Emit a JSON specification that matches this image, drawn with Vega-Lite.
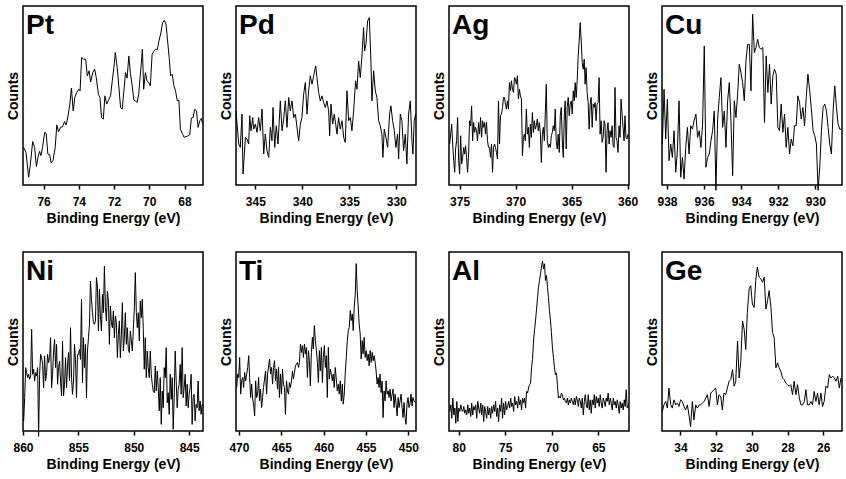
{
"$schema": "https://vega.github.io/schema/vega-lite/v6.json",
"background": "white",
"padding": {"left": 5, "top": 5, "right": 0, "bottom": 0},
"columns": 4,
"spacing": {"row": 67, "column": 33},
"bounds": "flush",
"config": {
  "font": "Liberation Sans",
  "view": {"stroke": "#000", "strokeWidth": 1.5},
  "axis": {"grid": false, "domain": false, "labelFont": "Liberation Sans", "labelFontWeight": "bold", "labelFontSize": 12, "labelColor": "#000", "titleFont": "Liberation Sans", "titleFontWeight": "bold", "titleFontSize": 14, "titleColor": "#000", "tickColor": "#000", "tickWidth": 1.5, "tickSize": 4, "labelPadding": 7, "labelFlush": false},
  "axisY": {"ticks": false, "labels": false, "titlePadding": 3},
  "axisX": {"titlePadding": 4},
  "line": {"color": "#000", "strokeWidth": 1, "clip": true},
  "text": {"font": "Liberation Sans", "fontSize": 28, "fontWeight": "bold", "color": "#000", "align": "left", "baseline": "top", "dx": 3, "dy": 6}
},
"datasets": {
"pt": [{"e":77.13,"c":21.0},{"e":77.00,"c":18.2},{"e":76.85,"c":4.3},{"e":76.75,"c":11.7},{"e":76.62,"c":24.3},{"e":76.51,"c":21.0},{"e":76.41,"c":10.4},{"e":76.32,"c":15.4},{"e":76.23,"c":18.8},{"e":76.15,"c":16.4},{"e":76.06,"c":21.0},{"e":75.94,"c":29.4},{"e":75.85,"c":28.8},{"e":75.76,"c":17.3},{"e":75.66,"c":16.9},{"e":75.57,"c":12.3},{"e":75.47,"c":13.6},{"e":75.34,"c":21.0},{"e":75.25,"c":33.6},{"e":75.15,"c":29.7},{"e":75.04,"c":32.2},{"e":74.93,"c":32.5},{"e":74.81,"c":35.5},{"e":74.72,"c":33.5},{"e":74.61,"c":38.7},{"e":74.51,"c":45.2},{"e":74.42,"c":54.1},{"e":74.32,"c":41.4},{"e":74.23,"c":48.9},{"e":74.12,"c":51.7},{"e":74.00,"c":53.5},{"e":73.93,"c":52.6},{"e":73.84,"c":71.2},{"e":73.74,"c":70.3},{"e":73.61,"c":70.3},{"e":73.52,"c":61.0},{"e":73.42,"c":63.8},{"e":73.33,"c":57.6},{"e":73.21,"c":62.8},{"e":73.10,"c":64.7},{"e":73.01,"c":60.0},{"e":72.89,"c":50.7},{"e":72.80,"c":48.9},{"e":72.71,"c":37.7},{"e":72.61,"c":36.8},{"e":72.52,"c":49.8},{"e":72.42,"c":45.2},{"e":72.33,"c":47.0},{"e":72.20,"c":49.8},{"e":72.10,"c":58.2},{"e":72.01,"c":65.6},{"e":71.93,"c":74.0},{"e":71.82,"c":65.6},{"e":71.73,"c":55.4},{"e":71.63,"c":43.3},{"e":71.54,"c":42.4},{"e":71.44,"c":52.6},{"e":71.35,"c":62.8},{"e":71.26,"c":59.7},{"e":71.16,"c":72.1},{"e":71.07,"c":62.3},{"e":70.97,"c":55.4},{"e":70.88,"c":47.4},{"e":70.79,"c":47.0},{"e":70.69,"c":46.1},{"e":70.60,"c":50.7},{"e":70.49,"c":63.8},{"e":70.39,"c":75.8},{"e":70.32,"c":53.5},{"e":70.22,"c":62.8},{"e":70.13,"c":58.2},{"e":70.03,"c":57.2},{"e":69.94,"c":55.4},{"e":69.84,"c":73.0},{"e":69.73,"c":74.9},{"e":69.64,"c":75.8},{"e":69.54,"c":75.8},{"e":69.45,"c":80.5},{"e":69.34,"c":85.1},{"e":69.24,"c":90.7},{"e":69.15,"c":92.0},{"e":69.05,"c":89.8},{"e":68.96,"c":80.5},{"e":68.87,"c":71.2},{"e":68.79,"c":61.0},{"e":68.70,"c":61.9},{"e":68.60,"c":55.4},{"e":68.51,"c":52.6},{"e":68.41,"c":47.0},{"e":68.32,"c":47.4},{"e":68.23,"c":31.2},{"e":68.11,"c":28.4},{"e":68.02,"c":26.6},{"e":67.91,"c":27.0},{"e":67.79,"c":27.5},{"e":67.70,"c":28.1},{"e":67.61,"c":37.4},{"e":67.51,"c":37.7},{"e":67.42,"c":42.4},{"e":67.32,"c":41.4},{"e":67.23,"c":32.2},{"e":67.13,"c":35.9},{"e":67.04,"c":37.2},{"e":66.98,"c":34.4}],
"pd": [{"e":347.06,"c":41.4},{"e":346.77,"c":22.9},{"e":346.60,"c":21.0},{"e":346.42,"c":39.6},{"e":346.31,"c":6.1},{"e":346.06,"c":26.6},{"e":345.89,"c":25.7},{"e":345.71,"c":22.9},{"e":345.60,"c":38.7},{"e":345.46,"c":30.3},{"e":345.28,"c":37.7},{"e":345.18,"c":31.2},{"e":345.00,"c":34.0},{"e":344.82,"c":29.4},{"e":344.65,"c":37.7},{"e":344.47,"c":30.3},{"e":344.29,"c":42.4},{"e":344.11,"c":17.3},{"e":343.94,"c":28.4},{"e":343.76,"c":19.1},{"e":343.58,"c":15.4},{"e":343.40,"c":32.2},{"e":343.23,"c":24.7},{"e":343.12,"c":43.3},{"e":342.94,"c":21.0},{"e":342.77,"c":33.1},{"e":342.59,"c":22.9},{"e":342.34,"c":47.0},{"e":342.16,"c":30.3},{"e":341.99,"c":36.8},{"e":341.81,"c":47.0},{"e":341.63,"c":32.2},{"e":341.45,"c":48.9},{"e":341.28,"c":41.4},{"e":341.10,"c":47.0},{"e":340.92,"c":37.7},{"e":340.74,"c":39.6},{"e":340.39,"c":24.7},{"e":340.21,"c":34.0},{"e":340.04,"c":37.7},{"e":339.86,"c":50.7},{"e":339.68,"c":57.2},{"e":339.50,"c":39.6},{"e":339.33,"c":52.6},{"e":339.15,"c":61.0},{"e":338.97,"c":56.3},{"e":338.79,"c":61.0},{"e":338.58,"c":66.5},{"e":338.44,"c":60.0},{"e":338.26,"c":51.7},{"e":338.09,"c":47.0},{"e":337.91,"c":49.8},{"e":337.73,"c":46.1},{"e":337.55,"c":43.3},{"e":337.38,"c":47.0},{"e":337.20,"c":41.4},{"e":337.09,"c":27.5},{"e":336.95,"c":45.2},{"e":336.77,"c":34.0},{"e":336.60,"c":39.6},{"e":336.45,"c":34.0},{"e":336.31,"c":28.4},{"e":336.14,"c":37.7},{"e":335.96,"c":31.2},{"e":335.78,"c":35.9},{"e":335.60,"c":26.6},{"e":335.43,"c":23.8},{"e":335.25,"c":52.6},{"e":335.07,"c":35.9},{"e":334.89,"c":37.7},{"e":334.72,"c":30.3},{"e":334.54,"c":41.4},{"e":334.33,"c":58.2},{"e":334.18,"c":53.5},{"e":334.01,"c":69.3},{"e":333.83,"c":60.0},{"e":333.65,"c":72.1},{"e":333.48,"c":87.9},{"e":333.37,"c":74.9},{"e":333.23,"c":78.6},{"e":333.05,"c":91.6},{"e":332.87,"c":93.5},{"e":332.70,"c":69.3},{"e":332.59,"c":47.0},{"e":332.41,"c":63.8},{"e":332.23,"c":52.6},{"e":332.06,"c":48.9},{"e":331.88,"c":35.9},{"e":331.70,"c":33.1},{"e":331.53,"c":28.4},{"e":331.42,"c":15.4},{"e":331.28,"c":31.2},{"e":331.10,"c":26.6},{"e":330.92,"c":21.0},{"e":330.71,"c":39.6},{"e":330.57,"c":44.2},{"e":330.39,"c":35.9},{"e":330.21,"c":30.3},{"e":330.04,"c":21.0},{"e":329.86,"c":28.4},{"e":329.75,"c":14.5},{"e":329.57,"c":39.6},{"e":329.40,"c":35.9},{"e":329.22,"c":19.1},{"e":329.04,"c":28.4},{"e":328.87,"c":11.7},{"e":328.69,"c":39.6},{"e":328.51,"c":47.0},{"e":328.33,"c":24.7},{"e":328.23,"c":17.3},{"e":328.09,"c":35.9},{"e":327.94,"c":39.6}],
"ag": [{"e":375.89,"c":22.9},{"e":375.80,"c":28.4},{"e":375.71,"c":34.0},{"e":375.62,"c":22.9},{"e":375.53,"c":13.6},{"e":375.44,"c":7.1},{"e":375.36,"c":20.1},{"e":375.27,"c":24.7},{"e":375.18,"c":37.7},{"e":375.09,"c":13.6},
{"e":375.00,"c":6.1},{"e":374.91,"c":27.5},{"e":374.82,"c":11.7},{"e":374.73,"c":15.4},{"e":374.64,"c":21.0},{"e":374.55,"c":17.3},{"e":374.47,"c":21.9},{"e":374.38,"c":15.4},{"e":374.29,"c":7.1},{"e":374.20,"c":17.3},
{"e":374.11,"c":35.9},{"e":374.02,"c":33.1},{"e":373.93,"c":44.2},{"e":373.84,"c":24.7},{"e":373.75,"c":34.9},{"e":373.66,"c":29.4},{"e":373.58,"c":32.2},{"e":373.49,"c":30.3},{"e":373.40,"c":24.7},{"e":373.31,"c":34.9},
{"e":373.22,"c":28.4},{"e":373.13,"c":37.7},{"e":373.04,"c":26.6},{"e":372.95,"c":35.9},{"e":372.86,"c":32.2},{"e":372.77,"c":34.9},{"e":372.69,"c":28.4},{"e":372.60,"c":34.9},{"e":372.51,"c":24.7},{"e":372.42,"c":21.0},
{"e":372.33,"c":21.0},{"e":372.24,"c":15.4},{"e":372.15,"c":22.9},{"e":372.06,"c":7.1},{"e":371.97,"c":21.0},{"e":371.88,"c":22.9},{"e":371.80,"c":21.0},{"e":371.71,"c":18.2},{"e":371.62,"c":14.5},{"e":371.53,"c":47.0},
{"e":371.44,"c":22.9},{"e":371.35,"c":38.7},{"e":371.26,"c":39.6},{"e":371.17,"c":43.3},{"e":371.08,"c":48.9},{"e":370.99,"c":48.9},{"e":370.91,"c":45.2},{"e":370.82,"c":42.4},{"e":370.73,"c":47.0},{"e":370.64,"c":42.4},
{"e":370.55,"c":57.2},{"e":370.46,"c":52.6},{"e":370.37,"c":58.2},{"e":370.28,"c":53.5},{"e":370.19,"c":51.7},{"e":370.10,"c":60.0},{"e":370.02,"c":59.1},{"e":369.93,"c":56.3},{"e":369.84,"c":61.0},{"e":369.75,"c":48.0},
{"e":369.66,"c":53.5},{"e":369.57,"c":49.8},{"e":369.48,"c":48.0},{"e":369.39,"c":16.4},{"e":369.30,"c":26.6},{"e":369.21,"c":28.4},{"e":369.13,"c":24.7},{"e":369.04,"c":42.4},{"e":368.95,"c":28.4},{"e":368.86,"c":32.2},
{"e":368.77,"c":21.0},{"e":368.68,"c":34.0},{"e":368.59,"c":26.6},{"e":368.50,"c":40.5},{"e":368.41,"c":29.4},{"e":368.32,"c":35.9},{"e":368.24,"c":31.2},{"e":368.15,"c":33.1},{"e":368.06,"c":36.8},{"e":367.97,"c":30.3},
{"e":367.88,"c":34.9},{"e":367.79,"c":29.4},{"e":367.70,"c":12.6},{"e":367.61,"c":28.4},{"e":367.52,"c":32.2},{"e":367.43,"c":24.7},{"e":367.35,"c":39.6},{"e":367.26,"c":56.3},{"e":367.17,"c":24.7},{"e":367.08,"c":21.0},
{"e":366.99,"c":22.9},{"e":366.90,"c":21.0},{"e":366.81,"c":27.5},{"e":366.72,"c":29.4},{"e":366.63,"c":33.1},{"e":366.54,"c":30.3},{"e":366.46,"c":42.4},{"e":366.37,"c":24.7},{"e":366.28,"c":20.1},{"e":366.19,"c":28.4},
{"e":366.10,"c":18.2},{"e":366.01,"c":38.7},{"e":365.92,"c":43.3},{"e":365.83,"c":24.7},{"e":365.74,"c":15.4},{"e":365.65,"c":39.6},{"e":365.57,"c":47.0},{"e":365.48,"c":20.1},{"e":365.39,"c":43.3},{"e":365.30,"c":48.9},
{"e":365.21,"c":38.7},{"e":365.12,"c":45.2},{"e":365.03,"c":47.0},{"e":364.94,"c":39.6},{"e":364.85,"c":52.6},{"e":364.76,"c":47.0},{"e":364.68,"c":57.2},{"e":364.59,"c":48.9},{"e":364.50,"c":58.2},{"e":364.41,"c":72.1},
{"e":364.32,"c":80.5},{"e":364.23,"c":90.7},{"e":364.14,"c":80.5},{"e":364.05,"c":68.4},{"e":363.96,"c":64.7},{"e":363.87,"c":70.3},{"e":363.79,"c":56.3},{"e":363.70,"c":65.6},{"e":363.61,"c":51.7},{"e":363.52,"c":46.1},
{"e":363.43,"c":31.2},{"e":363.34,"c":45.2},{"e":363.25,"c":48.9},{"e":363.16,"c":32.2},{"e":363.07,"c":45.2},{"e":362.98,"c":43.3},{"e":362.90,"c":46.1},{"e":362.81,"c":35.9},{"e":362.72,"c":45.2},{"e":362.63,"c":46.1},
{"e":362.54,"c":60.0},{"e":362.45,"c":28.4},{"e":362.36,"c":35.9},{"e":362.27,"c":23.8},{"e":362.18,"c":26.6},{"e":362.09,"c":35.9},{"e":362.01,"c":34.0},{"e":361.92,"c":7.1},{"e":361.83,"c":30.3},{"e":361.74,"c":34.9},
{"e":361.65,"c":22.9},{"e":361.56,"c":30.3},{"e":361.47,"c":26.6},{"e":361.38,"c":33.1},{"e":361.29,"c":21.9},{"e":361.20,"c":21.0},{"e":361.12,"c":54.5},{"e":361.03,"c":26.6},{"e":360.94,"c":24.7},{"e":360.85,"c":18.2},
{"e":360.76,"c":33.1},{"e":360.67,"c":26.6},{"e":360.58,"c":48.0},{"e":360.49,"c":39.6},{"e":360.40,"c":32.2},{"e":360.31,"c":24.7},{"e":360.23,"c":38.7},{"e":360.14,"c":26.6},{"e":360.05,"c":25.7},{"e":359.96,"c":28.4}],
"cu": [{"e":938.25,"c":22.9},{"e":938.16,"c":53.5},{"e":938.07,"c":25.7},{"e":937.98,"c":48.0},{"e":937.89,"c":13.6},{"e":937.80,"c":22.9},{"e":937.71,"c":15.4},{"e":937.62,"c":30.3},{"e":937.53,"c":7.1},{"e":937.44,"c":19.1},
{"e":937.35,"c":47.0},{"e":937.26,"c":4.3},{"e":937.17,"c":15.4},{"e":937.08,"c":3.3},{"e":936.99,"c":21.0},{"e":936.90,"c":32.2},{"e":936.81,"c":17.3},{"e":936.72,"c":33.1},{"e":936.63,"c":31.2},{"e":936.54,"c":35.9},
{"e":936.44,"c":39.6},{"e":936.35,"c":26.6},{"e":936.26,"c":30.3},{"e":936.17,"c":21.0},{"e":936.08,"c":34.0},{"e":935.99,"c":77.7},{"e":935.90,"c":9.9},{"e":935.81,"c":15.4},{"e":935.72,"c":17.3},{"e":935.63,"c":24.7},
{"e":935.54,"c":30.3},{"e":935.45,"c":41.4},{"e":935.36,"c":-3},{"e":935.27,"c":36.8},{"e":935.18,"c":48.9},{"e":935.09,"c":60.0},{"e":935.00,"c":32.2},{"e":934.91,"c":41.4},{"e":934.82,"c":21.0},{"e":934.73,"c":47.0},
{"e":934.64,"c":57.2},{"e":934.55,"c":35.9},{"e":934.46,"c":5.2},{"e":934.37,"c":47.0},{"e":934.28,"c":37.7},{"e":934.19,"c":50.7},{"e":934.10,"c":67.5},{"e":934.01,"c":62.8},{"e":933.92,"c":57.2},{"e":933.83,"c":47.0},
{"e":933.74,"c":69.3},{"e":933.65,"c":78.6},{"e":933.56,"c":78.6},{"e":933.47,"c":52.6},{"e":933.38,"c":95.4},{"e":933.29,"c":74.0},{"e":933.20,"c":76.8},{"e":933.11,"c":81.4},{"e":933.02,"c":76.8},{"e":932.93,"c":75.8},
{"e":932.83,"c":76.8},{"e":932.74,"c":34.9},{"e":932.65,"c":72.1},{"e":932.56,"c":51.7},{"e":932.47,"c":67.5},{"e":932.38,"c":45.2},{"e":932.29,"c":61.0},{"e":932.20,"c":64.7},{"e":932.11,"c":61.9},{"e":932.02,"c":32.2},
{"e":931.93,"c":30.3},{"e":931.84,"c":45.2},{"e":931.75,"c":29.4},{"e":931.66,"c":39.6},{"e":931.57,"c":21.0},{"e":931.48,"c":32.2},{"e":931.39,"c":17.3},{"e":931.30,"c":25.7},{"e":931.21,"c":21.9},{"e":931.12,"c":33.1},
{"e":931.03,"c":33.1},{"e":930.94,"c":49.8},{"e":930.85,"c":46.1},{"e":930.76,"c":36.8},{"e":930.67,"c":43.3},{"e":930.58,"c":33.1},{"e":930.49,"c":48.9},{"e":930.40,"c":61.9},{"e":930.31,"c":53.5},{"e":930.22,"c":43.3},
{"e":930.12,"c":30.3},{"e":930.03,"c":27.5},{"e":929.94,"c":22.9},{"e":929.85,"c":-3},{"e":929.76,"c":9.9},{"e":929.67,"c":30.3},{"e":929.58,"c":43.3},{"e":929.49,"c":45.2},{"e":929.40,"c":41.4},{"e":929.31,"c":32.2},
{"e":929.22,"c":22.9},{"e":929.13,"c":17.3},{"e":929.04,"c":41.4},{"e":928.95,"c":55.4},{"e":928.86,"c":43.3},{"e":928.77,"c":34.0},{"e":928.68,"c":31.2},{"e":928.59,"c":31.2}],
"ni": [{"e":859.94,"c":5.6},{"e":859.85,"c":18.6},{"e":859.76,"c":35.4},{"e":859.67,"c":32.6},{"e":859.58,"c":29.8},{"e":859.49,"c":31.7},{"e":859.40,"c":28.9},{"e":859.31,"c":30.7},{"e":859.22,"c":56.8},{"e":859.13,"c":31.7},
{"e":859.04,"c":34.5},{"e":858.95,"c":27.9},{"e":858.86,"c":32.6},{"e":858.77,"c":30.7},{"e":858.68,"c":35.4},{"e":858.59,"c":-3},{"e":858.50,"c":31.7},{"e":858.41,"c":42.8},{"e":858.32,"c":41.0},{"e":858.23,"c":37.2},
{"e":858.14,"c":24.2},{"e":858.05,"c":41.9},{"e":857.96,"c":27.9},{"e":857.87,"c":32.6},{"e":857.78,"c":42.8},{"e":857.69,"c":38.2},{"e":857.60,"c":41.0},{"e":857.51,"c":52.1},{"e":857.42,"c":24.2},{"e":857.33,"c":31.7},
{"e":857.24,"c":44.7},{"e":857.15,"c":51.2},{"e":857.06,"c":35.4},{"e":856.97,"c":48.4},{"e":856.88,"c":26.1},{"e":856.79,"c":35.4},{"e":856.70,"c":39.1},{"e":856.61,"c":27.9},{"e":856.52,"c":19.6},{"e":856.43,"c":50.3},
{"e":856.34,"c":19.6},{"e":856.25,"c":26.1},{"e":856.16,"c":41.0},{"e":856.07,"c":24.2},{"e":855.98,"c":36.3},{"e":855.89,"c":43.8},{"e":855.80,"c":27.9},{"e":855.71,"c":57.7},{"e":855.62,"c":29.8},{"e":855.53,"c":20.5},
{"e":855.44,"c":27.9},{"e":855.35,"c":48.4},{"e":855.26,"c":40.0},{"e":855.17,"c":18.6},{"e":855.08,"c":42.8},{"e":854.99,"c":42.8},{"e":854.90,"c":45.6},{"e":854.81,"c":40.0},{"e":854.72,"c":73.6},{"e":854.63,"c":27.0},
{"e":854.54,"c":52.1},{"e":854.45,"c":35.4},{"e":854.36,"c":48.4},{"e":854.27,"c":18.6},{"e":854.18,"c":44.7},{"e":854.09,"c":52.1},{"e":854.00,"c":59.6},{"e":853.91,"c":83.8},{"e":853.82,"c":73.6},{"e":853.73,"c":66.1},
{"e":853.64,"c":60.5},{"e":853.55,"c":59.6},{"e":853.46,"c":61.5},{"e":853.37,"c":85.7},{"e":853.28,"c":81.0},{"e":853.19,"c":55.9},{"e":853.10,"c":79.1},{"e":853.01,"c":64.2},{"e":852.92,"c":55.9},{"e":852.83,"c":76.4},
{"e":852.74,"c":66.1},{"e":852.65,"c":92.2},{"e":852.56,"c":68.9},{"e":852.47,"c":61.5},{"e":852.38,"c":78.2},{"e":852.29,"c":72.6},{"e":852.20,"c":48.4},{"e":852.11,"c":69.8},{"e":852.02,"c":60.5},{"e":851.93,"c":57.7},
{"e":851.84,"c":67.0},{"e":851.75,"c":52.1},{"e":851.66,"c":64.2},{"e":851.57,"c":60.5},{"e":851.48,"c":41.0},{"e":851.39,"c":54.0},{"e":851.30,"c":61.5},{"e":851.21,"c":41.0},{"e":851.12,"c":54.0},{"e":851.03,"c":71.7},
{"e":850.94,"c":44.7},{"e":850.85,"c":52.1},{"e":850.76,"c":66.1},{"e":850.67,"c":48.4},{"e":850.58,"c":57.7},{"e":850.49,"c":45.6},{"e":850.40,"c":43.8},{"e":850.31,"c":55.9},{"e":850.22,"c":50.3},{"e":850.13,"c":44.7},
{"e":850.04,"c":56.8},{"e":849.95,"c":68.9},{"e":849.86,"c":88.5},{"e":849.77,"c":66.1},{"e":849.68,"c":57.7},{"e":849.59,"c":66.1},{"e":849.50,"c":50.3},{"e":849.41,"c":72.6},{"e":849.32,"c":63.3},{"e":849.23,"c":73.6},
{"e":849.14,"c":56.8},{"e":849.05,"c":34.5},{"e":848.96,"c":52.1},{"e":848.87,"c":29.8},{"e":848.78,"c":44.7},{"e":848.69,"c":35.4},{"e":848.60,"c":29.8},{"e":848.51,"c":44.7},{"e":848.42,"c":31.7},{"e":848.33,"c":26.1},
{"e":848.24,"c":22.3},{"e":848.15,"c":21.4},{"e":848.06,"c":36.3},{"e":847.97,"c":22.3},{"e":847.88,"c":33.5},{"e":847.79,"c":24.2},{"e":847.70,"c":11.2},{"e":847.61,"c":29.8},{"e":847.52,"c":3.7},{"e":847.43,"c":22.3},
{"e":847.34,"c":13.0},{"e":847.25,"c":35.4},{"e":847.16,"c":29.8},{"e":847.07,"c":46.6},{"e":846.98,"c":15.8},{"e":846.89,"c":21.4},{"e":846.80,"c":9.3},{"e":846.71,"c":31.7},{"e":846.62,"c":17.7},{"e":846.53,"c":29.8},
{"e":846.44,"c":0.9},{"e":846.35,"c":18.6},{"e":846.26,"c":44.7},{"e":846.17,"c":27.9},{"e":846.08,"c":13.0},{"e":845.99,"c":23.3},{"e":845.90,"c":26.1},{"e":845.81,"c":37.2},{"e":845.72,"c":20.5},{"e":845.63,"c":46.6},
{"e":845.54,"c":18.6},{"e":845.45,"c":24.2},{"e":845.36,"c":31.7},{"e":845.27,"c":14.0},{"e":845.18,"c":26.1},{"e":845.09,"c":13.0},{"e":845.00,"c":20.5},{"e":844.91,"c":24.2},{"e":844.82,"c":31.7},{"e":844.73,"c":3.7},
{"e":844.64,"c":18.6},{"e":844.55,"c":20.5},{"e":844.46,"c":5.6},{"e":844.37,"c":14.9},{"e":844.28,"c":13.0},{"e":844.19,"c":27.9},{"e":844.10,"c":11.2},{"e":844.01,"c":16.8},{"e":843.92,"c":9.3},{"e":843.83,"c":14.9}],
"ti": [{"e":470.27,"c":24.3},{"e":470.15,"c":31.8},{"e":470.03,"c":29.9},{"e":469.92,"c":41.1},{"e":469.80,"c":20.6},{"e":469.68,"c":28.0},{"e":469.56,"c":29.9},{"e":469.45,"c":24.3},{"e":469.33,"c":32.7},{"e":469.21,"c":28.0},
{"e":469.09,"c":31.8},{"e":468.97,"c":35.5},{"e":468.85,"c":42.1},{"e":468.74,"c":29.9},{"e":468.62,"c":18.7},{"e":468.50,"c":26.2},{"e":468.38,"c":17.8},{"e":468.27,"c":15.0},{"e":468.15,"c":8.4},{"e":468.03,"c":28.0},
{"e":467.92,"c":18.7},{"e":467.80,"c":20.6},{"e":467.68,"c":29.9},{"e":467.57,"c":16.8},{"e":467.45,"c":23.4},{"e":467.33,"c":13.1},{"e":467.21,"c":18.7},{"e":467.10,"c":24.3},{"e":466.98,"c":29.0},{"e":466.86,"c":33.6},
{"e":466.74,"c":20.6},{"e":466.62,"c":31.8},{"e":466.50,"c":36.4},{"e":466.39,"c":40.2},{"e":466.27,"c":31.8},{"e":466.15,"c":35.5},{"e":466.03,"c":26.2},{"e":465.92,"c":35.5},{"e":465.80,"c":39.3},{"e":465.68,"c":28.0},
{"e":465.57,"c":34.6},{"e":465.45,"c":23.4},{"e":465.33,"c":35.5},{"e":465.22,"c":18.7},{"e":465.10,"c":31.8},{"e":464.98,"c":20.6},{"e":464.86,"c":34.6},{"e":464.75,"c":26.2},{"e":464.63,"c":24.3},{"e":464.51,"c":9.3},
{"e":464.39,"c":28.0},{"e":464.27,"c":22.4},{"e":464.15,"c":20.6},{"e":464.04,"c":27.1},{"e":463.92,"c":24.3},{"e":463.80,"c":28.0},{"e":463.68,"c":33.6},{"e":463.57,"c":29.0},{"e":463.45,"c":32.7},{"e":463.33,"c":36.4},
{"e":463.21,"c":37.4},{"e":463.09,"c":38.3},{"e":462.97,"c":35.5},{"e":462.86,"c":38.3},{"e":462.74,"c":48.6},{"e":462.62,"c":43.9},{"e":462.50,"c":47.7},{"e":462.39,"c":41.1},{"e":462.27,"c":48.6},{"e":462.15,"c":43.0},
{"e":462.04,"c":46.7},{"e":461.92,"c":29.9},{"e":461.80,"c":44.9},{"e":461.69,"c":39.3},{"e":461.57,"c":25.2},{"e":461.45,"c":43.9},{"e":461.33,"c":52.3},{"e":461.22,"c":45.8},{"e":461.10,"c":58.9},{"e":460.98,"c":50.5},
{"e":460.86,"c":44.9},{"e":460.74,"c":38.3},{"e":460.62,"c":27.1},{"e":460.51,"c":44.9},{"e":460.39,"c":33.6},{"e":460.27,"c":46.7},{"e":460.15,"c":27.1},{"e":460.04,"c":41.1},{"e":459.92,"c":47.7},{"e":459.80,"c":35.5},
{"e":459.69,"c":42.1},{"e":459.57,"c":18.7},{"e":459.45,"c":46.7},{"e":459.34,"c":29.0},{"e":459.22,"c":34.6},{"e":459.10,"c":31.8},{"e":458.98,"c":28.0},{"e":458.87,"c":31.8},{"e":458.75,"c":24.3},{"e":458.63,"c":35.5},
{"e":458.51,"c":29.0},{"e":458.39,"c":22.4},{"e":458.27,"c":26.2},{"e":458.16,"c":20.6},{"e":458.04,"c":28.0},{"e":457.92,"c":16.8},{"e":457.80,"c":26.2},{"e":457.69,"c":15.0},{"e":457.57,"c":20.6},{"e":457.45,"c":32.7},
{"e":457.33,"c":41.1},{"e":457.21,"c":50.5},{"e":457.09,"c":56.1},{"e":456.98,"c":57.9},{"e":456.86,"c":67.3},{"e":456.74,"c":61.7},{"e":456.62,"c":65.4},{"e":456.51,"c":56.1},{"e":456.39,"c":69.2},{"e":456.27,"c":76.6},
{"e":456.16,"c":93.5},{"e":456.04,"c":78.5},{"e":455.92,"c":69.2},{"e":455.81,"c":59.8},{"e":455.69,"c":54.2},{"e":455.57,"c":40.2},{"e":455.45,"c":50.5},{"e":455.34,"c":43.0},{"e":455.22,"c":52.3},{"e":455.10,"c":41.1},
{"e":454.98,"c":44.9},{"e":454.86,"c":39.3},{"e":454.74,"c":43.0},{"e":454.63,"c":36.4},{"e":454.51,"c":44.9},{"e":454.39,"c":38.3},{"e":454.27,"c":43.9},{"e":454.16,"c":39.3},{"e":454.04,"c":42.1},{"e":453.92,"c":38.3},
{"e":453.81,"c":33.6},{"e":453.69,"c":26.2},{"e":453.57,"c":29.9},{"e":453.46,"c":24.3},{"e":453.34,"c":31.8},{"e":453.22,"c":21.5},{"e":453.10,"c":28.0},{"e":452.99,"c":7.5},{"e":452.87,"c":22.4},{"e":452.75,"c":16.8},
{"e":452.63,"c":28.0},{"e":452.51,"c":20.6},{"e":452.39,"c":22.4},{"e":452.28,"c":18.7},{"e":452.16,"c":23.4},{"e":452.04,"c":16.8},{"e":451.92,"c":20.6},{"e":451.81,"c":23.4},{"e":451.69,"c":13.1},{"e":451.57,"c":20.6},
{"e":451.45,"c":15.0},{"e":451.33,"c":8.4},{"e":451.21,"c":18.7},{"e":451.10,"c":13.1},{"e":450.98,"c":16.8},{"e":450.86,"c":20.6},{"e":450.74,"c":13.1},{"e":450.63,"c":7.5},{"e":450.51,"c":15.9},{"e":450.39,"c":7.5},
{"e":450.28,"c":3.7},{"e":450.16,"c":15.0},{"e":450.04,"c":18.7},{"e":449.93,"c":13.1},{"e":449.81,"c":15.0},{"e":449.69,"c":20.6},{"e":449.57,"c":14.0},{"e":449.46,"c":18.7},{"e":449.34,"c":16.8},{"e":449.22,"c":15.9}],
"al": [{"e":80.96,"c":10.9},{"e":80.85,"c":14.6},{"e":80.75,"c":7.1},{"e":80.64,"c":18.4},{"e":80.53,"c":9.0},{"e":80.42,"c":12.8},{"e":80.32,"c":4.3},{"e":80.21,"c":16.5},{"e":80.10,"c":5.3},{"e":80.00,"c":12.8},
{"e":79.89,"c":10.9},{"e":79.78,"c":14.6},{"e":79.68,"c":11.8},{"e":79.57,"c":10.9},{"e":79.46,"c":13.7},{"e":79.35,"c":9.9},{"e":79.25,"c":11.8},{"e":79.14,"c":9.0},{"e":79.03,"c":14.6},{"e":78.93,"c":9.9},
{"e":78.82,"c":12.8},{"e":78.71,"c":8.1},{"e":78.61,"c":15.6},{"e":78.50,"c":9.0},{"e":78.39,"c":13.7},{"e":78.28,"c":11.8},{"e":78.18,"c":14.6},{"e":78.07,"c":7.1},{"e":77.96,"c":16.5},{"e":77.86,"c":12.8},
{"e":77.75,"c":9.9},{"e":77.64,"c":15.6},{"e":77.54,"c":9.0},{"e":77.43,"c":14.6},{"e":77.32,"c":5.3},{"e":77.21,"c":13.7},{"e":77.11,"c":10.9},{"e":77.00,"c":7.1},{"e":76.89,"c":13.7},{"e":76.79,"c":9.0},
{"e":76.68,"c":12.8},{"e":76.57,"c":7.1},{"e":76.47,"c":13.7},{"e":76.36,"c":9.9},{"e":76.25,"c":14.6},{"e":76.14,"c":10.9},{"e":76.04,"c":16.5},{"e":75.93,"c":8.1},{"e":75.82,"c":12.8},{"e":75.72,"c":5.3},
{"e":75.61,"c":14.6},{"e":75.50,"c":10.9},{"e":75.40,"c":18.4},{"e":75.29,"c":7.1},{"e":75.18,"c":15.6},{"e":75.07,"c":9.0},{"e":74.97,"c":16.5},{"e":74.86,"c":11.8},{"e":74.75,"c":13.7},{"e":74.65,"c":16.5},
{"e":74.53,"c":12.8},{"e":74.42,"c":18.4},{"e":74.32,"c":13.7},{"e":74.21,"c":15.6},{"e":74.10,"c":10.9},{"e":73.99,"c":19.3},{"e":73.89,"c":14.6},{"e":73.78,"c":16.5},{"e":73.67,"c":12.8},{"e":73.57,"c":19.3},
{"e":73.46,"c":14.6},{"e":73.35,"c":17.4},{"e":73.25,"c":11.8},{"e":73.14,"c":18.4},{"e":73.03,"c":15.6},{"e":72.92,"c":18.4},{"e":72.82,"c":12.8},{"e":72.71,"c":22.1},{"e":72.60,"c":21.2},{"e":72.50,"c":24.0},
{"e":72.39,"c":25.9},{"e":72.28,"c":26.8},{"e":72.18,"c":35.3},{"e":72.07,"c":40.0},{"e":71.96,"c":50.3},{"e":71.85,"c":56.8},{"e":71.75,"c":61.5},{"e":71.64,"c":68.1},{"e":71.53,"c":74.7},{"e":71.43,"c":80.3},
{"e":71.32,"c":84.1},{"e":71.21,"c":87.8},{"e":71.11,"c":91.6},{"e":71.00,"c":94.9},{"e":70.89,"c":90.6},{"e":70.78,"c":93.4},{"e":70.68,"c":84.1},{"e":70.57,"c":86.9},{"e":70.46,"c":80.3},{"e":70.36,"c":74.7},
{"e":70.25,"c":67.2},{"e":70.14,"c":61.5},{"e":70.04,"c":55.0},{"e":69.93,"c":46.5},{"e":69.82,"c":40.9},{"e":69.71,"c":35.3},{"e":69.61,"c":31.5},{"e":69.50,"c":32.5},{"e":69.39,"c":25.9},{"e":69.29,"c":18.4},
{"e":69.18,"c":19.3},{"e":69.07,"c":18.4},{"e":68.97,"c":21.2},{"e":68.86,"c":20.3},{"e":68.75,"c":17.4},{"e":68.64,"c":18.4},{"e":68.54,"c":16.5},{"e":68.43,"c":15.6},{"e":68.32,"c":18.4},{"e":68.22,"c":14.6},
{"e":68.11,"c":17.4},{"e":68.00,"c":15.6},{"e":67.90,"c":18.4},{"e":67.79,"c":16.5},{"e":67.68,"c":14.6},{"e":67.57,"c":18.4},{"e":67.47,"c":14.6},{"e":67.36,"c":19.3},{"e":67.25,"c":17.4},{"e":67.15,"c":13.7},
{"e":67.04,"c":18.4},{"e":66.93,"c":16.5},{"e":66.83,"c":12.8},{"e":66.72,"c":18.4},{"e":66.61,"c":9.0},{"e":66.50,"c":16.5},{"e":66.40,"c":20.3},{"e":66.29,"c":14.6},{"e":66.18,"c":12.8},{"e":66.08,"c":20.3},
{"e":65.97,"c":11.8},{"e":65.86,"c":17.4},{"e":65.76,"c":9.9},{"e":65.65,"c":17.4},{"e":65.54,"c":14.6},{"e":65.43,"c":20.3},{"e":65.33,"c":12.8},{"e":65.22,"c":19.3},{"e":65.11,"c":15.6},{"e":65.01,"c":18.4},
{"e":64.90,"c":13.7},{"e":64.79,"c":20.3},{"e":64.69,"c":15.6},{"e":64.58,"c":12.8},{"e":64.47,"c":18.4},{"e":64.36,"c":16.5},{"e":64.26,"c":13.7},{"e":64.15,"c":18.4},{"e":64.04,"c":16.5},{"e":63.94,"c":21.2},
{"e":63.82,"c":14.6},{"e":63.71,"c":18.4},{"e":63.61,"c":15.6},{"e":63.50,"c":11.8},{"e":63.39,"c":18.4},{"e":63.28,"c":14.6},{"e":63.18,"c":16.5},{"e":63.07,"c":12.8},{"e":62.96,"c":17.4},{"e":62.86,"c":14.6},
{"e":62.75,"c":9.9},{"e":62.64,"c":16.5},{"e":62.54,"c":12.8},{"e":62.43,"c":15.6},{"e":62.32,"c":11.8},{"e":62.21,"c":17.4},{"e":62.11,"c":13.7},{"e":62.00,"c":23.1},{"e":61.89,"c":12.8},{"e":61.79,"c":14.6}],
"ge": [{"e":35.01,"c":10.9},{"e":34.92,"c":14.6},{"e":34.82,"c":16.5},{"e":34.73,"c":12.8},{"e":34.64,"c":24.0},{"e":34.54,"c":14.6},{"e":34.45,"c":12.8},{"e":34.36,"c":17.4},{"e":34.26,"c":14.6},{"e":34.17,"c":15.6},
{"e":34.08,"c":13.7},{"e":33.99,"c":17.4},{"e":33.89,"c":16.5},{"e":33.80,"c":13.7},{"e":33.71,"c":11.8},{"e":33.61,"c":14.6},{"e":33.52,"c":9.0},{"e":33.43,"c":2.4},{"e":33.33,"c":16.5},{"e":33.24,"c":6.2},
{"e":33.14,"c":14.6},{"e":33.05,"c":12.8},{"e":32.95,"c":14.6},{"e":32.86,"c":14.6},{"e":32.77,"c":15.6},{"e":32.67,"c":16.5},{"e":32.58,"c":18.4},{"e":32.49,"c":20.3},{"e":32.39,"c":13.7},{"e":32.30,"c":21.2},
{"e":32.21,"c":22.1},{"e":32.12,"c":23.1},{"e":32.02,"c":24.0},{"e":31.93,"c":14.6},{"e":31.84,"c":20.3},{"e":31.74,"c":19.3},{"e":31.65,"c":11.8},{"e":31.56,"c":21.2},{"e":31.46,"c":20.3},{"e":31.37,"c":24.0},
{"e":31.27,"c":27.8},{"e":31.18,"c":28.7},{"e":31.08,"c":34.3},{"e":30.99,"c":25.0},{"e":30.90,"c":27.8},{"e":30.80,"c":50.3},{"e":30.71,"c":29.6},{"e":30.62,"c":39.0},{"e":30.52,"c":61.5},{"e":30.43,"c":56.8},
{"e":30.34,"c":45.6},{"e":30.25,"c":66.2},{"e":30.15,"c":79.4},{"e":30.06,"c":81.2},{"e":29.97,"c":70.9},{"e":29.87,"c":69.0},{"e":29.78,"c":84.1},{"e":29.69,"c":91.6},{"e":29.59,"c":85.9},{"e":29.50,"c":85.0},
{"e":29.40,"c":83.1},{"e":29.31,"c":85.9},{"e":29.21,"c":68.1},{"e":29.12,"c":72.8},{"e":29.03,"c":78.4},{"e":28.93,"c":69.0},{"e":28.84,"c":55.0},{"e":28.75,"c":52.2},{"e":28.65,"c":35.3},{"e":28.56,"c":38.1},
{"e":28.47,"c":35.3},{"e":28.38,"c":33.4},{"e":28.28,"c":29.6},{"e":28.19,"c":28.7},{"e":28.10,"c":26.8},{"e":28.00,"c":25.9},{"e":27.91,"c":25.0},{"e":27.82,"c":25.9},{"e":27.72,"c":20.3},{"e":27.63,"c":27.8},
{"e":27.53,"c":20.3},{"e":27.44,"c":25.9},{"e":27.34,"c":18.4},{"e":27.25,"c":14.6},{"e":27.16,"c":14.6},{"e":27.06,"c":16.5},{"e":26.97,"c":23.1},{"e":26.88,"c":14.6},{"e":26.78,"c":14.6},{"e":26.69,"c":16.5},
{"e":26.60,"c":14.6},{"e":26.51,"c":22.1},{"e":26.41,"c":16.5},{"e":26.32,"c":21.2},{"e":26.23,"c":14.6},{"e":26.13,"c":21.2},{"e":26.04,"c":13.7},{"e":25.95,"c":16.5},{"e":25.85,"c":25.0},{"e":25.76,"c":24.0},
{"e":25.66,"c":31.5},{"e":25.57,"c":29.6},{"e":25.47,"c":30.6},{"e":25.38,"c":29.6},{"e":25.29,"c":27.8},{"e":25.19,"c":30.6},{"e":25.10,"c":24.0},{"e":25.01,"c":29.6}]
},
"concat": [
{"width":180,"height":179,"layer":[
 {"data":{"name":"pt"},"mark":"line","encoding":{"x":{"field":"e","type":"quantitative","scale":{"domain":[66.95,77.17],"reverse":true,"nice":false,"zero":false},"axis":{"values":[76,74,72,70,68],"format":"d","title":"Binding Energy (eV)"}},"y":{"field":"c","type":"quantitative","scale":{"domain":[0,100],"nice":false},"axis":{"title":"Counts"}}}},
 {"data":{"values":[{"label":"Pt"}]},"mark":"text","encoding":{"text":{"field":"label"},"x":{"datum":77.17},"y":{"datum":100}}}]},
{"width":180,"height":179,"layer":[
 {"data":{"name":"pd"},"mark":"line","encoding":{"x":{"field":"e","type":"quantitative","scale":{"domain":[327.9,347.06],"reverse":true,"nice":false,"zero":false},"axis":{"values":[345,340,335,330],"format":"d","title":"Binding Energy (eV)"}},"y":{"field":"c","type":"quantitative","scale":{"domain":[0,100],"nice":false},"axis":{"title":"Counts"}}}},
 {"data":{"values":[{"label":"Pd"}]},"mark":"text","encoding":{"text":{"field":"label"},"x":{"datum":347.06},"y":{"datum":100}}}]},
{"width":180,"height":179,"layer":[
 {"data":{"name":"ag"},"mark":"line","encoding":{"x":{"field":"e","type":"quantitative","scale":{"domain":[359.87,375.95],"reverse":true,"nice":false,"zero":false},"axis":{"values":[375,370,365,360],"format":"d","title":"Binding Energy (eV)"}},"y":{"field":"c","type":"quantitative","scale":{"domain":[0,100],"nice":false},"axis":{"title":"Counts"}}}},
 {"data":{"values":[{"label":"Ag"}]},"mark":"text","encoding":{"text":{"field":"label"},"x":{"datum":375.95},"y":{"datum":100}}}]},
{"width":180,"height":179,"layer":[
 {"data":{"name":"cu"},"mark":"line","encoding":{"x":{"field":"e","type":"quantitative","scale":{"domain":[928.56,938.27],"reverse":true,"nice":false,"zero":false},"axis":{"values":[938,936,934,932,930],"format":"d","title":"Binding Energy (eV)"}},"y":{"field":"c","type":"quantitative","scale":{"domain":[0,100],"nice":false},"axis":{"title":"Counts"}}}},
 {"data":{"values":[{"label":"Cu"}]},"mark":"text","encoding":{"text":{"field":"label"},"x":{"datum":938.27},"y":{"datum":100}}}]},
{"width":180,"height":179,"layer":[
 {"data":{"name":"ni"},"mark":"line","encoding":{"x":{"field":"e","type":"quantitative","scale":{"domain":[843.75,860],"reverse":true,"nice":false,"zero":false},"axis":{"values":[860,855,850,845],"format":"d","title":"Binding Energy (eV)"}},"y":{"field":"c","type":"quantitative","scale":{"domain":[0,100],"nice":false},"axis":{"title":"Counts"}}}},
 {"data":{"values":[{"label":"Ni"}]},"mark":"text","encoding":{"text":{"field":"label"},"x":{"datum":860},"y":{"datum":100}}}]},
{"width":180,"height":179,"layer":[
 {"data":{"name":"ti"},"mark":"line","encoding":{"x":{"field":"e","type":"quantitative","scale":{"domain":[449.1,470.35],"reverse":true,"nice":false,"zero":false},"axis":{"values":[470,465,460,455,450],"format":"d","title":"Binding Energy (eV)"}},"y":{"field":"c","type":"quantitative","scale":{"domain":[0,100],"nice":false},"axis":{"title":"Counts"}}}},
 {"data":{"values":[{"label":"Ti"}]},"mark":"text","encoding":{"text":{"field":"label"},"x":{"datum":470.35},"y":{"datum":100}}}]},
{"width":180,"height":179,"layer":[
 {"data":{"name":"al"},"mark":"line","encoding":{"x":{"field":"e","type":"quantitative","scale":{"domain":[61.7,81.05],"reverse":true,"nice":false,"zero":false},"axis":{"values":[80,75,70,65],"format":"d","title":"Binding Energy (eV)"}},"y":{"field":"c","type":"quantitative","scale":{"domain":[0,100],"nice":false},"axis":{"title":"Counts"}}}},
 {"data":{"values":[{"label":"Al"}]},"mark":"text","encoding":{"text":{"field":"label"},"x":{"datum":81.05},"y":{"datum":100}}}]},
{"width":180,"height":179,"layer":[
 {"data":{"name":"ge"},"mark":"line","encoding":{"x":{"field":"e","type":"quantitative","scale":{"domain":[24.95,35.03],"reverse":true,"nice":false,"zero":false},"axis":{"values":[34,32,30,28,26],"format":"d","title":"Binding Energy (eV)"}},"y":{"field":"c","type":"quantitative","scale":{"domain":[0,100],"nice":false},"axis":{"title":"Counts"}}}},
 {"data":{"values":[{"label":"Ge"}]},"mark":"text","encoding":{"text":{"field":"label"},"x":{"datum":35.03},"y":{"datum":100}}}]}
]
}
